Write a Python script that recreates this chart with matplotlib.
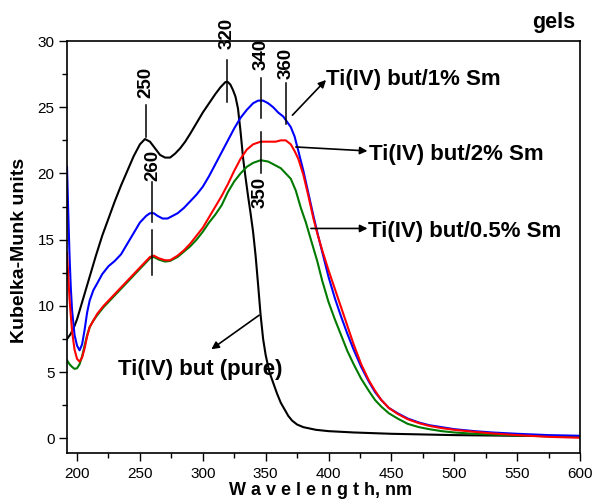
import matplotlib
matplotlib.use("Agg")
import matplotlib.pyplot as plt
from matplotlib.ticker import MultipleLocator

plt.rcParams["font.family"] = ["Liberation Sans", "DejaVu Sans"]

# Ti(IV) butoxide gel, pure
x_pure = [192, 195, 198, 200, 205, 210, 215, 220, 225, 230, 235, 240, 245, 250, 254,
          258, 262, 266, 270, 274, 278, 282, 286, 290, 295, 300, 305, 310, 314, 318,
          320, 322, 324, 326, 328, 330, 332, 334, 336, 338, 340, 342, 344, 346, 348,
          350, 353, 356, 359, 362, 365, 368, 371, 375, 380, 390, 400, 420, 450, 500, 550, 600]
y_pure = [7.5, 7.9, 8.5, 9.0, 10.6, 12.2, 13.8, 15.3, 16.6, 17.9, 19.1, 20.2, 21.3, 22.2, 22.6,
          22.4, 21.9, 21.4, 21.2, 21.2, 21.5, 21.9, 22.4, 23.0, 23.8, 24.6, 25.3, 26.0, 26.5, 26.9,
          26.9, 26.7, 26.3, 25.8, 24.9, 23.2, 21.2, 19.7, 18.3, 17.0, 15.6, 13.8, 11.6, 9.3, 7.5,
          6.3, 5.0, 4.2, 3.4, 2.7, 2.2, 1.7, 1.35, 1.05, 0.85, 0.65, 0.55, 0.45, 0.35, 0.25, 0.2, 0.15]

# 1% Sm
x_1 = [192, 193, 194, 195, 196, 198, 200, 202, 204, 206, 208, 210, 213, 216, 220, 225,
       230, 235, 240, 245, 250, 255, 258, 261, 264, 268, 272, 276, 280, 285, 290, 295,
       300, 305, 310, 315, 320, 325, 330, 335, 340, 344, 348, 352, 356, 360, 364, 367,
       370, 373, 376, 380, 384, 388, 392, 396, 400, 405, 410, 415, 420, 426, 432, 437,
       442, 448, 455, 463, 472, 480, 490, 500, 516, 530, 550, 575, 600]
y_1 = [20.5, 17.0, 13.8, 11.4, 9.7, 7.8, 7.0, 6.65, 7.1, 8.2, 9.5, 10.4, 11.2, 11.7, 12.4, 13.0,
       13.4, 13.9, 14.7, 15.5, 16.3, 16.8, 17.0, 17.0, 16.8, 16.6, 16.6, 16.8, 17.0, 17.4, 17.9, 18.4,
       19.0, 19.8, 20.7, 21.6, 22.5, 23.4, 24.2, 24.8, 25.3, 25.5, 25.5, 25.3, 25.0, 24.6, 24.3, 23.9,
       23.5, 22.8, 21.7, 20.2, 18.5, 16.8, 15.2, 13.7, 12.2, 10.6, 9.2, 7.9, 6.7, 5.4, 4.3, 3.5,
       2.9, 2.3, 1.9, 1.5, 1.2, 1.0, 0.85, 0.7, 0.55, 0.45, 0.35, 0.25, 0.2]

# 2% Sm
x_2 = [192, 194, 196, 198, 200, 202, 204, 206, 208, 210, 213, 216, 221, 228, 234, 241,
       248, 254, 258, 261, 265, 270, 274, 280, 285, 290, 295, 300, 305, 310, 315, 320,
       325, 330, 335, 340, 346, 352, 358, 362, 366, 370, 373, 376, 380, 384, 388, 391,
       395, 400, 405, 410, 415, 420, 426, 432, 437, 442, 448, 455, 463, 472, 480, 490,
       500, 516, 530, 550, 575, 600]
y_2 = [14.0, 10.5, 8.1, 6.7, 6.0, 5.8, 6.1, 6.8, 7.7, 8.4, 8.9, 9.4, 10.0, 10.7, 11.3, 12.0,
       12.7, 13.3, 13.7, 13.8, 13.6, 13.45, 13.45, 13.8, 14.2, 14.7, 15.3, 15.9, 16.7, 17.5, 18.3, 19.2,
       20.2, 21.1, 21.8, 22.2, 22.4, 22.4, 22.4, 22.5, 22.5, 22.2, 21.7, 21.1, 19.9, 18.3, 16.6, 15.5,
       14.2, 12.7, 11.3, 9.9, 8.5, 7.1, 5.6, 4.4, 3.6, 2.9, 2.3, 1.85, 1.45, 1.15, 0.95, 0.78,
       0.65, 0.5, 0.38, 0.25, 0.12, 0.05]

# 0.5% Sm
x_05 = [192, 194, 196, 198, 200, 202, 204, 206, 208, 210, 213, 216, 221, 228, 234, 241,
        248, 254, 258, 261, 265, 270, 274, 280, 285, 290, 295, 300, 305, 310, 315, 320,
        325, 330, 335, 340, 346, 352, 358, 362, 366, 370, 374, 378, 382, 386, 391, 395,
        400, 405, 410, 415, 420, 426, 432, 437, 442, 448, 455, 463, 472, 480, 490, 500,
        516, 540, 570, 600]
y_05 = [5.9, 5.6, 5.4, 5.25, 5.3, 5.6, 6.2, 7.0, 7.8, 8.4, 8.9, 9.3, 9.9, 10.6, 11.2, 11.9,
        12.6, 13.2, 13.6, 13.7, 13.5, 13.35, 13.4, 13.7, 14.1, 14.5, 15.0, 15.6, 16.3, 16.9, 17.6, 18.6,
        19.4, 20.0, 20.5, 20.8, 21.0, 20.9, 20.6, 20.4, 20.0, 19.6, 18.7, 17.4, 16.3, 15.0, 13.4, 11.9,
        10.3, 9.0, 7.8, 6.6, 5.6, 4.5, 3.6, 2.9, 2.4, 1.9, 1.5, 1.1, 0.85, 0.7, 0.55, 0.45,
        0.35, 0.25, 0.18, 0.15]

# band positions marked on the curves: (label, x, text y, line segments)
peak_marks = [
    ("250", 254.5, 26.9, [(25.2, 22.75)]),
    ("320", 319.0, 30.6, [(28.6, 25.4)]),
    ("340", 346.2, 29.0, [(27.2, 24.2)]),
    ("360", 366.0, 28.3, [(26.8, 23.7)]),
    ("260", 260.0, 20.6, [(19.35, 16.3), (15.7, 12.3)]),
    ("350", 346.0, 18.55, [(23.1, 20.0)]),
]

# curve labels: text, text anchor (x, y baseline), arrow tail, arrow head
curve_labels = [
    ("Ti(IV) but/1% Sm", (398, 26.7), (371.3, 24.4), (398, 27.06)),
    ("Ti(IV) but/2% Sm", (432.3, 21.0), (374, 22.0), (431, 21.7)),
    ("Ti(IV) but/0.5% Sm", (431.5, 15.2), (386, 15.85), (431, 15.85)),
    ("Ti(IV) but (pure)", (232.2, 4.76), (344.8, 9.3), (306.8, 6.73)),
]

fig = plt.figure(figsize=(5.93, 5.0), dpi=100)
ax = fig.add_axes([0.113, 0.094, 0.865, 0.824])

lw = 1.5
ax.plot(x_pure, y_pure, color="black", lw=lw)
ax.plot(x_05, y_05, color="#007a00", lw=lw)
ax.plot(x_1, y_1, color="#0000ff", lw=lw)
ax.plot(x_2, y_2, color="#ff0000", lw=lw)

for text, x, ty, segs in peak_marks:
    for y0, y1 in segs:
        ax.plot([x, x], [y0, y1], color="black", lw=1.1, clip_on=False)
    ax.text(x, ty, text, rotation=90, ha="center", va="center",
            fontsize=13.5, fontweight="bold", clip_on=False)

for text, (tx, ty), tail, head in curve_labels:
    ax.text(tx, ty, text, ha="left", va="baseline", fontsize=16, fontweight="bold")
    ax.annotate("", xy=head, xytext=tail,
                arrowprops=dict(arrowstyle="-|>", lw=1.2, color="black",
                                mutation_scale=11, shrinkA=0, shrinkB=0))

ax.set_xlim(192, 600)
ax.set_ylim(-1.1, 30)
ax.xaxis.set_major_locator(MultipleLocator(50))
ax.xaxis.set_minor_locator(MultipleLocator(25))
ax.yaxis.set_major_locator(MultipleLocator(5))
ax.yaxis.set_minor_locator(MultipleLocator(2.5))
ax.tick_params(which="major", direction="out", length=6, width=1, labelsize=11)
ax.tick_params(which="minor", direction="out", length=3.5, width=1)
ax.tick_params(axis="x", pad=4)
ax.tick_params(axis="y", pad=3)
for s in ax.spines.values():
    s.set_linewidth(1.2)

fig.text(20 / 593, 0.5, "Kubelka-Munk units", rotation=90, ha="center", va="center",
         fontsize=14, fontweight="bold")
fig.text(321 / 593, 0.002, "W a v e l e n g t h, nm", ha="center", va="bottom",
         fontsize=13, fontweight="bold")
fig.text(575 / 593, 1 - 28 / 500, "gels", ha="right", va="baseline",
         fontsize=15.5, fontweight="bold")

fig.savefig("out.png", dpi=100)
